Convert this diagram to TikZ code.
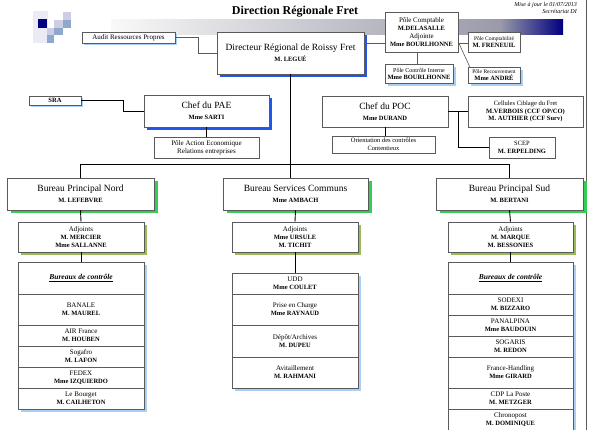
\documentclass[tikz,border=0pt]{standalone}
\usepackage{fontspec}
\setmainfont{Liberation Serif}
\usetikzlibrary{shadows, calc}
\definecolor{shblue}{HTML}{2255EE}
\definecolor{shgreen}{HTML}{33CC55}
\definecolor{sholive}{HTML}{9BBB59}
\definecolor{shlight}{HTML}{A9CFF5}
\definecolor{boxline}{HTML}{5A5A5A}
\definecolor{logonavy}{HTML}{000080}
\definecolor{logolav}{HTML}{CDCDE6}
\definecolor{logoblue}{HTML}{8FA9CC}
\definecolor{barmid}{HTML}{9A9AAA}
\newcommand{\bnom}[1]{{\fontsize{6.5}{7.5}\selectfont\bfseries #1}}
\newcommand{\listhead}{{\fontsize{7.5}{9}\selectfont\bfseries\itshape\underline{Bureaux de contrôle}}}

\begin{document}
\begin{tikzpicture}[x=1pt, y=-1pt,
  box/.style={draw=boxline, line width=0.6pt, fill=white, align=center, inner sep=0pt, font=\fontsize{7}{8}\selectfont},
  small/.style={box, font=\fontsize{5.5}{6.5}\selectfont},
  chef/.style={box, font=\fontsize{9.5}{11}\selectfont},
  bureau/.style={chef, minimum width=147pt, minimum height=32pt, greenshad},
  adjbox/.style={box, minimum width=126pt, minimum height=30pt, oliveshad},
  rowbox/.style={box, minimum width=126pt, minimum height=21pt, lightshad},
  blueshad/.style={drop shadow={shadow xshift=3pt, shadow yshift=-3pt, fill=shblue, opacity=1}},
  greenshad/.style={drop shadow={shadow xshift=4pt, shadow yshift=-3pt, fill=shgreen, opacity=1}},
  oliveshad/.style={drop shadow={shadow xshift=3pt, shadow yshift=-3pt, fill=sholive, opacity=1}},
  lightshad/.style={drop shadow={shadow xshift=3pt, shadow yshift=-3pt, fill=shlight, opacity=1}},
  link/.style={draw=black, line width=0.9pt},
  thin link/.style={draw=boxline, line width=0.6pt}
]
  \useasboundingbox (0,0) rectangle (599,440);
  \clip (0,0) rectangle (599,429);

  % Logo and header bar
  \fill[logolav!40] (33,11) rectangle (48,43);
  \fill[logonavy] (38,19) rectangle (47,28);
  \fill[logolav] (63,12) rectangle (71,20);
  \fill[logolav] (54,20) rectangle (63,28);
  \fill[logoblue] (63,20) rectangle (71,28);
  \fill[logolav] (47,28) rectangle (54,35);
  \fill[logoblue] (54,28) rectangle (63,35);
  \fill[logoblue] (47,35) rectangle (54,43);
  \shade[left color=gray!5, right color=barmid] (111,19) rectangle (500,34);
  \shade[left color=barmid, right color=logonavy] (500,19) rectangle (563,34);
  \draw[boxline, line width=0.6pt] (586,0) -- (586,440);

  \node[font=\fontsize{12}{14}\selectfont\bfseries] (title) at (295,12) {Direction Régionale Fret};
  \node[font=\fontsize{6}{7}\selectfont\itshape, anchor=north east, align=right, inner sep=0pt] (maj) at (577,2)
    {Mise à jour le 01/07/2013\\Secrétariat DI};

  % Direction
  \node[chef, minimum width=147pt, minimum height=42pt, blueshad] (dir) at (290.5,53)
    {Directeur Régional de Roissy Fret\\\bnom{M. LEGUÉ}};
  \node[box, minimum width=93pt, minimum height=11pt, drop shadow={shadow xshift=2pt, shadow yshift=-2pt, fill=shlight, opacity=1}] (audit) at (128.5,37.5)
    {Audit Ressources Propres};
  \node[box, minimum width=73pt, minimum height=40pt] (pc) at (421.5,32)
    {Pôle Comptable\\\bnom{M.DELASALLE}\\Adjointe\\\bnom{Mme BOURLHONNE}};
  \node[small, minimum width=52pt, minimum height=20pt] (pcompta) at (494,42)
    {Pôle Comptabilité\\\bnom{M. FRENEUIL}};
  \node[small, minimum width=52pt, minimum height=16pt, lightshad] (prec) at (494,75)
    {Pôle Recouvrement\\\bnom{Mme ANDRÉ}};
  \node[box, font=\fontsize{6}{7}\selectfont, minimum width=68pt, minimum height=19pt, lightshad] (pci) at (419,73.5)
    {Pôle Contrôle Interne\\\bnom{Mme BOURLHONNE}};

  % PAE and POC
  \node[box, minimum width=52pt, minimum height=9pt, drop shadow={shadow xshift=2pt, shadow yshift=-2pt, fill=shlight, opacity=1}] (sra) at (55,100.5)
    {\bnom{SRA}};
  \node[chef, minimum width=125pt, minimum height=32pt, blueshad] (pae) at (206.5,111)
    {Chef du PAE\\\bnom{Mme SARTI}};
  \node[box, minimum width=105pt, minimum height=21pt] (paepole) at (206.5,147.5)
    {Pôle Action Economique\\Relations entreprises};
  \node[chef, minimum width=126pt, minimum height=31pt] (poc) at (385,111.5)
    {Chef du POC\\\bnom{Mme DURAND}};
  \node[box, font=\fontsize{6.5}{7.5}\selectfont, minimum width=103pt, minimum height=17pt] (orient) at (383.5,144.5)
    {Orientation des contrôles\\Contentieux};
  \node[box, font=\fontsize{6.5}{7.5}\selectfont, minimum width=115pt, minimum height=31pt] (ccf) at (525.5,111.5)
    {Cellules Ciblage du Fret\\\bnom{M.VERBOIS (CCF OP/CO)}\\\bnom{M. AUTHIER (CCF Surv)}};
  \node[box, font=\fontsize{6.5}{7.5}\selectfont, minimum width=66pt, minimum height=21pt] (scep) at (522,147.5)
    {SCEP\\\bnom{M. ERPELDING}};

  % Bureaux
  \node[bureau] (bpn) at (80.5,194) {Bureau Principal Nord\\\bnom{M. LEFEBVRE}};
  \node[bureau, minimum width=145pt] (bsc) at (295.5,194) {Bureau Services Communs\\\bnom{Mme AMBACH}};
  \node[bureau] (bps) at (509.5,194) {Bureau Principal Sud\\\bnom{M. BERTANI}};

  \node[adjbox] (adjn) at (81,237) {Adjoints\\\bnom{M. MERCIER}\\\bnom{Mme SALLANNE}};
  \node[adjbox] (adjm) at (295,237) {Adjoints\\\bnom{Mme URSULE}\\\bnom{M. TICHIT}};
  \node[adjbox, minimum width=125pt] (adjs) at (510.5,237) {Adjoints\\\bnom{M. MARQUE}\\\bnom{M. BESSONIES}};

  % Nord list
  \node[rowbox, minimum height=32pt] (ctrln) at (81,278) {\listhead};
  \node[rowbox, minimum height=31pt] (banale) at (81,309.5) {BANALE\\\bnom{M. MAUREL}};
  \node[rowbox] (airfr) at (81,335.5) {AIR France\\\bnom{M. HOUBEN}};
  \node[rowbox] (sogafro) at (81,356.5) {Sogafro\\\bnom{M. LAFON}};
  \node[rowbox] (fedex) at (81,377.5) {FEDEX\\\bnom{Mme IZQUIERDO}};
  \node[rowbox] (bourget) at (81,398.5) {Le Bourget\\\bnom{M. CAILHETON}};

  % Services communs list
  \node[rowbox] (udd) at (295,283.5) {UDD\\\bnom{Mme COULET}};
  \node[rowbox, minimum height=31pt] (prise) at (295,309.5) {Prise en Charge\\\bnom{Mme RAYNAUD}};
  \node[rowbox, minimum height=32pt] (depot) at (295,341) {Dépôt/Archives\\\bnom{M. DUPEU}};
  \node[rowbox, minimum height=31pt] (avit) at (295,372.5) {Avitaillement\\\bnom{M. RAHMANI}};

  % Sud list
  \node[rowbox, minimum width=125pt, minimum height=32pt] (ctrls) at (510.5,278) {\listhead};
  \node[rowbox, minimum width=125pt] (sodexi) at (510.5,304.5) {SODEXI\\\bnom{M. BIZZARO}};
  \node[rowbox, minimum width=125pt] (panalpina) at (510.5,325.5) {PANALPINA\\\bnom{Mme BAUDOUIN}};
  \node[rowbox, minimum width=125pt] (sogaris) at (510.5,346.5) {SOGARIS\\\bnom{M. REDON}};
  \node[rowbox, minimum width=125pt, minimum height=31pt] (fh) at (510.5,372.5) {France-Handling\\\bnom{Mme GIRARD}};
  \node[rowbox, minimum width=125pt] (cdp) at (510.5,398.5) {CDP La Poste\\\bnom{M. METZGER}};
  \node[rowbox, minimum width=125pt, minimum height=21pt] (chrono) at (510.5,419.5) {Chronopost\\\bnom{M. DOMINIQUE}};

  % Links
  \draw[thin link] (audit.east) -- ++(23,0) |- (dir.west);
  \draw[thin link] ([yshift=-11pt]pc.west) -- ([yshift=-11pt]pc.west -| dir.east);
  \draw[thin link] ([yshift=-11pt]pc.east) -- ([yshift=-11pt]pc.east -| pcompta.west);
  \draw[thin link] ([yshift=-10pt]pc.east) -- ([xshift=2pt]prec.north west);
  \draw[thin link] ([xshift=-4pt]pc.south) -- ([xshift=-4pt]pc.south |- pci.north);

  \draw[link] (dir.south) -- (dir.south |- bsc.north);
  \draw[link] (bpn.north) -- ++(0,-13) -| (bps.north);

  \draw[link] (sra.east) -- ++(42,0) |- (pae.west);
  \draw[link] (pae.south) -- (paepole.north);
  \draw[link] (poc.south) -- (poc.south |- orient.north);
  \draw[link] (poc.east) -- (ccf.west);
  \draw[link] ([xshift=10pt]poc.east) |- (scep.west);

  \draw[link] (bpn.south) -- (adjn.north);
  \draw[link] (adjn.south) -- (ctrln.north);
  \draw[link] (bsc.south) -- (adjm.north);
  \draw[link] (adjm.south) -- (udd.north);
  \draw[link] (bps.south) -- (adjs.north);
  \draw[link] (adjs.south) -- (ctrls.north);
\end{tikzpicture}
\end{document}
